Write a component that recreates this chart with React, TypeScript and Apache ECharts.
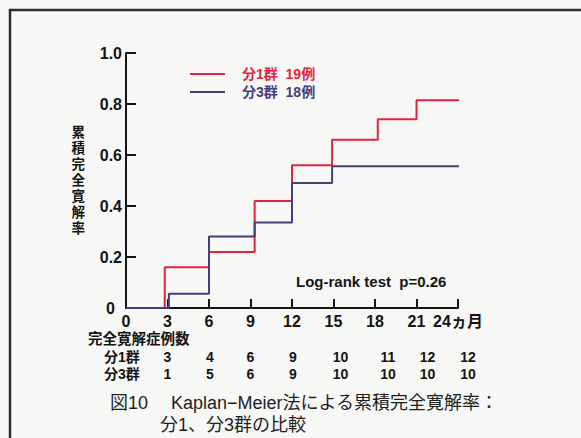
import React, { useEffect, useRef } from "react";
import * as echarts from "echarts";

// ---- data ----
const group1Name = "分1群  19例";
const group3Name = "分3群  18例";
const months1 = [0, 2.8, 6, 9.3, 12, 14.9, 18.2, 21, 24.1];
const rate1 = [0, 0.16, 0.22, 0.42, 0.56, 0.66, 0.74, 0.815, 0.815];
const months3 = [0, 3.1, 6, 9.3, 12, 14.9, 24.1];
const rate3 = [0, 0.056, 0.28, 0.335, 0.49, 0.556, 0.556];

const tableMonths = [3, 6, 9, 12, 15, 18, 21, 24];
const count1 = [3, 4, 6, 9, 10, 11, 12, 12];
const count3 = [1, 5, 6, 9, 10, 10, 10, 10];

const yAxisTitle = "累積完全寛解率";
const tableTitle = "完全寛解症例数";
const row1Label = "分1群";
const row3Label = "分3群";
const logRankText = "Log-rank test  p=0.26";
const captionLine1 = "図10　 Kaplan−Meier法による累積完全寛解率：";
const captionLine2 = "分1、分3群の比較";
const monthUnit = "ヵ月";

const RED = "#e2243f";
const BLUE = "#433e7e";
const INK = "#141414";
const LATIN = "'Liberation Sans', Arial, 'Noto Sans CJK JP', sans-serif";

export default function App() {
  const ref = useRef<HTMLDivElement>(null);

  useEffect(() => {
    document.body.style.margin = "0";
    const el = ref.current;
    if (!el) return;
    const chart = echarts.init(el, null, { renderer: "svg" });

    const zip = (xs: number[], ys: number[]) => xs.map((x, i) => [x, ys[i]]);

    chart.setOption({
      animation: false,
      backgroundColor: "#f7f7f5",
      grid: { left: 126, top: 53, width: 332, height: 255 },
      legend: {
        orient: "vertical",
        left: 190,
        top: 67,
        padding: 0,
        itemWidth: 35,
        itemHeight: 2,
        itemGap: 4,
        icon: "rect",
        textStyle: {
          fontSize: 14,
          fontWeight: "bold",
          fontFamily: LATIN,
          padding: [0, 0, 0, 12],
        },
        data: [
          { name: group1Name, textStyle: { color: RED } },
          { name: group3Name, textStyle: { color: BLUE } },
        ],
      },
      xAxis: {
        type: "value",
        min: 0,
        max: 24,
        interval: 3,
        splitLine: { show: false },
        axisLine: { lineStyle: { color: INK, width: 2 } },
        axisTick: { inside: true, length: 9, lineStyle: { color: INK, width: 2 } },
        axisLabel: {
          margin: 5,
          color: INK,
          fontSize: 16,
          fontWeight: "bold",
          fontFamily: LATIN,
          formatter: (v: number) => (v === 24 ? `${v}${monthUnit}` : String(v)),
        },
      },
      yAxis: {
        type: "value",
        min: 0,
        max: 1,
        interval: 0.2,
        name: yAxisTitle.split("").join("\n"),
        nameLocation: "middle",
        nameRotate: 0,
        nameGap: 41,
        nameTextStyle: {
          color: INK,
          fontSize: 13.5,
          fontWeight: "bold",
          fontFamily: LATIN,
          lineHeight: 16,
        },
        splitLine: { show: false },
        axisLine: { lineStyle: { color: INK, width: 2 } },
        axisTick: { inside: true, length: 10, lineStyle: { color: INK, width: 2 } },
        axisLabel: {
          margin: 4,
          color: INK,
          fontSize: 16,
          fontWeight: "bold",
          fontFamily: LATIN,
          formatter: (v: number) => (v === 0 ? "{z|0}" : v.toFixed(1)),
          rich: {
            z: {
              fontSize: 16,
              fontWeight: "bold",
              fontFamily: LATIN,
              color: INK,
              padding: [0, 7, 0, 0],
            },
          },
        },
      },
      series: [
        {
          name: group1Name,
          type: "line",
          step: "end",
          showSymbol: false,
          symbol: "none",
          clip: false,
          color: RED,
          lineStyle: { color: RED, width: 2 },
          data: zip(months1, rate1),
          z: 3,
        },
        {
          name: group3Name,
          type: "line",
          step: "end",
          showSymbol: false,
          symbol: "none",
          clip: false,
          color: BLUE,
          lineStyle: { color: BLUE, width: 2 },
          data: zip(months3, rate3),
          z: 4,
        },
      ],
    });

    const colShift = [0, 1, 0, 1, 7, 13, 11, 10];
    const tableTexts: any[] = [];
    tableMonths.forEach((m, i) => {
      const px = chart.convertToPixel({ xAxisIndex: 0 }, m) as number;
      const x = px + colShift[i];
      const base = {
        fontSize: 14,
        fontWeight: "bold",
        fontFamily: LATIN,
        fill: INK,
        textAlign: "center",
        textVerticalAlign: "middle",
      };
      tableTexts.push({ type: "text", x, y: 357, style: { ...base, text: String(count1[i]) } });
      tableTexts.push({ type: "text", x, y: 374, style: { ...base, text: String(count3[i]) } });
    });

    const boldLabel = {
      fontSize: 14,
      fontWeight: "bold",
      fontFamily: LATIN,
      fill: INK,
      textVerticalAlign: "middle",
    };
    const captionStyle = {
      fontSize: 18,
      fontFamily: LATIN,
      fill: "#1e1e1e",
      textVerticalAlign: "middle",
    };

    chart.setOption({
      graphic: [
        {
          type: "line",
          shape: { x1: 9, y1: 10, x2: 581, y2: 10 },
          style: { stroke: "#2e2e2e", lineWidth: 2.5 },
        },
        {
          type: "line",
          shape: { x1: 10, y1: 9, x2: 10, y2: 438 },
          style: { stroke: "#2e2e2e", lineWidth: 2.5 },
        },
        {
          type: "text",
          x: 296,
          y: 281,
          style: {
            text: logRankText,
            fontSize: 15,
            fontWeight: "bold",
            fontFamily: LATIN,
            fill: INK,
            textVerticalAlign: "middle",
          },
        },
        { type: "text", x: 88, y: 339, style: { ...boldLabel, text: tableTitle, fontSize: 14.5 } },
        { type: "text", x: 104, y: 357, style: { ...boldLabel, text: row1Label } },
        { type: "text", x: 104, y: 374, style: { ...boldLabel, text: row3Label } },
        ...tableTexts,
        { type: "text", x: 110, y: 403, style: { ...captionStyle, text: captionLine1 } },
        { type: "text", x: 160, y: 425, style: { ...captionStyle, text: captionLine2 } },
      ],
    });

    return () => chart.dispose();
  }, []);

  return <div ref={ref} style={{ width: 581, height: 438 }} />;
}
